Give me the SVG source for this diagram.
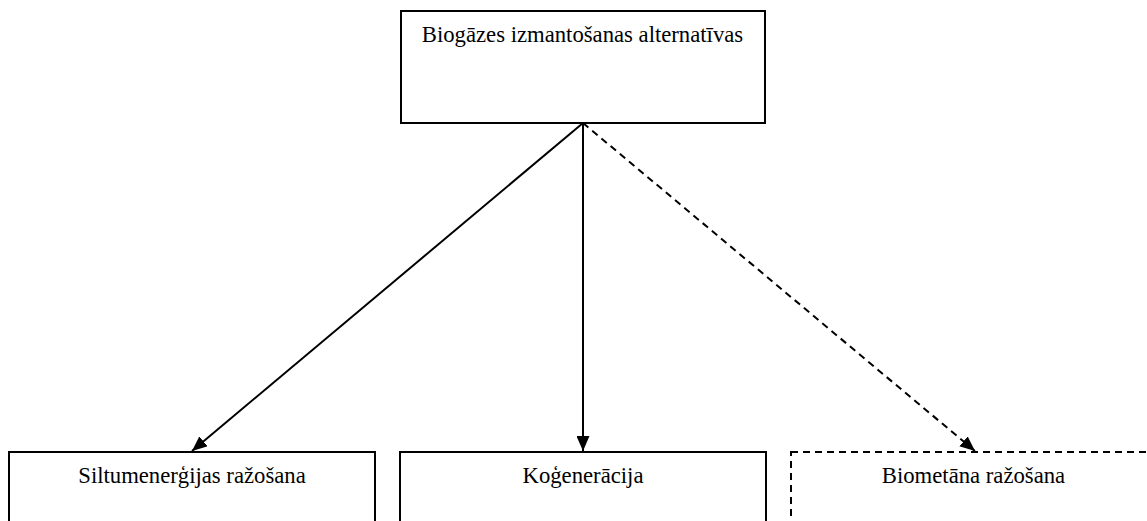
<svg xmlns="http://www.w3.org/2000/svg" width="1147" height="521" viewBox="0 0 1147 521">
<style>
.box{fill:#fff;stroke:#000;stroke-width:2}
.dash{stroke-dasharray:7,5}
.t{font-family:"Liberation Serif","Times New Roman",serif;font-size:22.7px;fill:#000;text-anchor:middle}
.c{stroke:#000;stroke-width:2;fill:none}
</style>
<defs>
<marker id="ah" viewBox="0 0 15 13" refX="15" refY="6.5" markerWidth="15" markerHeight="13" markerUnits="userSpaceOnUse" orient="auto">
<path d="M0,0 L15,6.5 L0,13 Z" fill="#000"/>
</marker>
</defs>
<g id="n-top">
<rect class="box" x="401" y="11" width="364" height="112"/>
<text class="t" x="582.5" y="42">Biogāzes izmantošanas alternatīvas</text>
</g>
<g id="n-heat">
<rect class="box" x="9" y="452" width="366" height="80"/>
<text class="t" x="192" y="483">Siltumenerģijas ražošana</text>
</g>
<g id="n-chp">
<rect class="box" x="400" y="452" width="366" height="80"/>
<text class="t" x="583" y="483">Koģenerācija</text>
</g>
<g id="n-bio">
<rect class="box dash" x="791" y="452" width="366" height="80"/>
<text class="t" x="973.5" y="483">Biometāna ražošana</text>
</g>
<g id="connectors">
<line class="c" x1="583" y1="123" x2="192" y2="451" marker-end="url(#ah)"/>
<line class="c" x1="583" y1="123" x2="583" y2="451" marker-end="url(#ah)"/>
<line class="c dash" x1="583" y1="123" x2="975" y2="451" marker-end="url(#ah)"/>
</g>
</svg>
